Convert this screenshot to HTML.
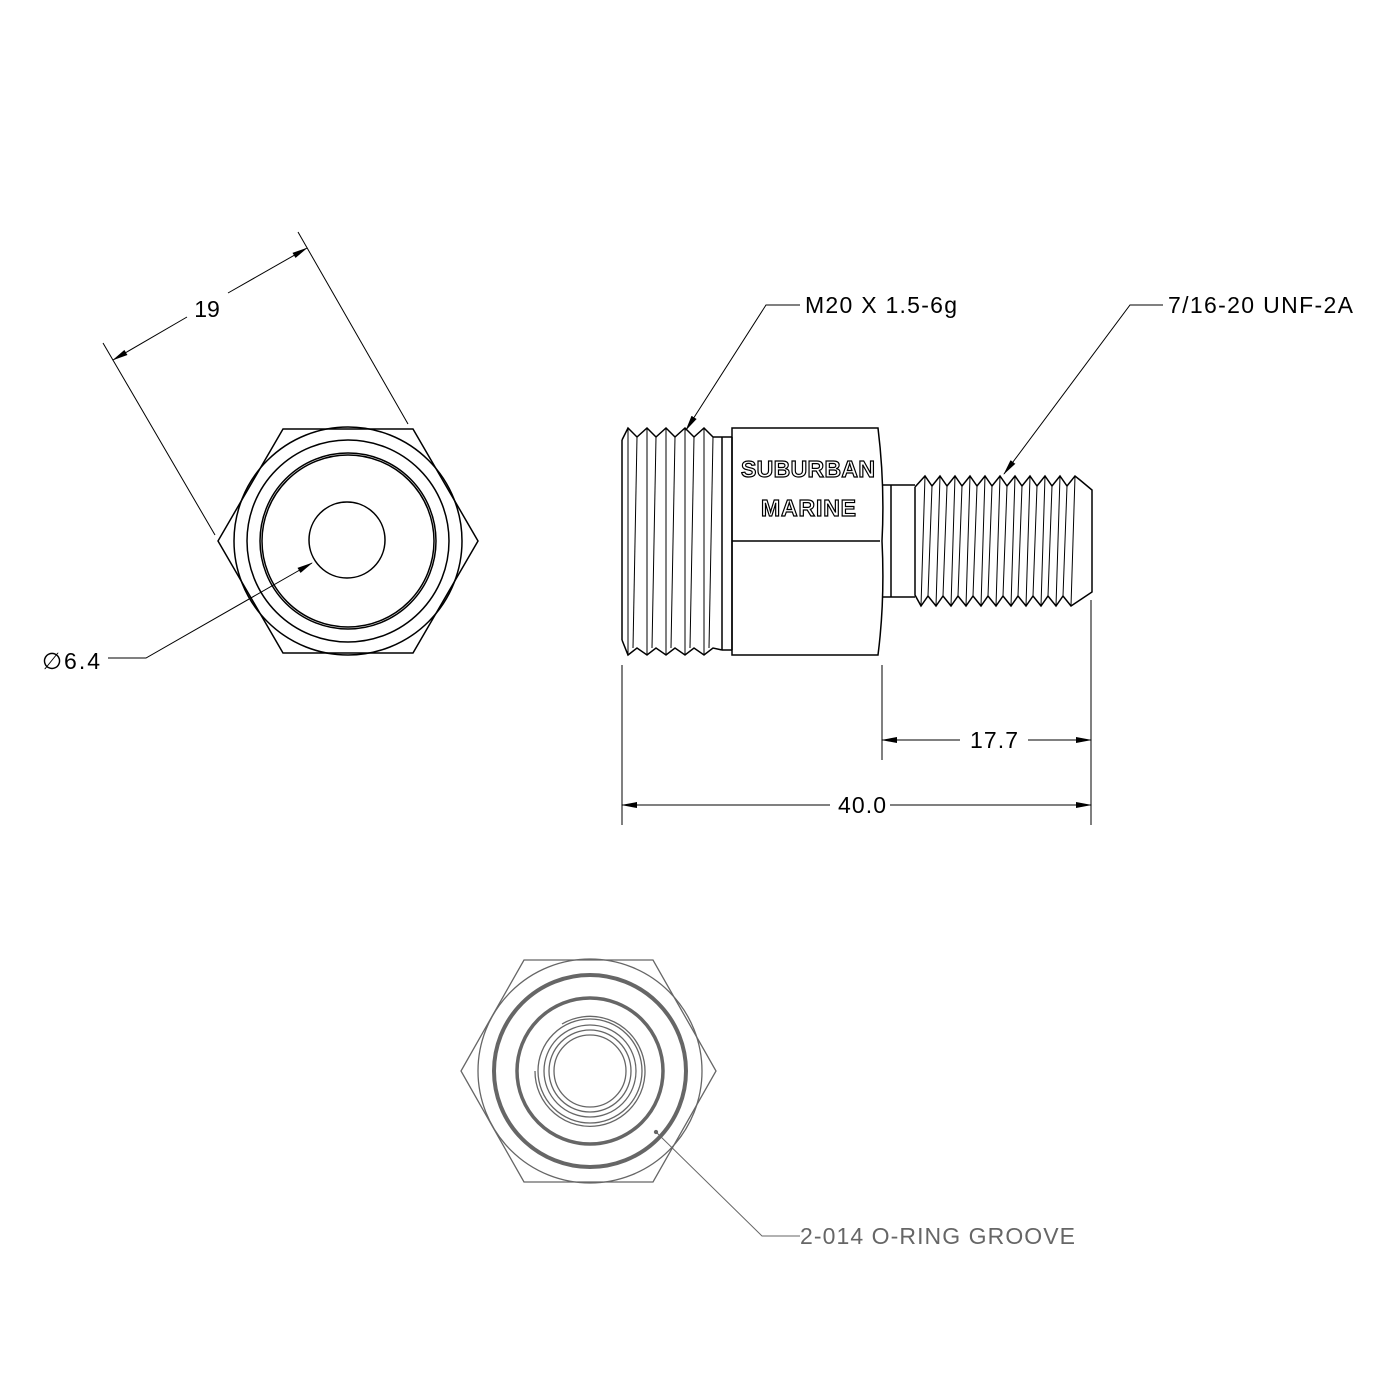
<!DOCTYPE html>
<html><head><style>html,body{margin:0;padding:0;background:#fff}svg{display:block}</style></head>
<body>
<svg width="1400" height="1400" viewBox="0 0 1400 1400" xmlns="http://www.w3.org/2000/svg" font-family="Liberation Sans, sans-serif">
<defs>
<marker id="ar" markerWidth="16" markerHeight="8" refX="15" refY="4" orient="auto" markerUnits="userSpaceOnUse"><path d="M0,1 L16,4 L0,7 z" fill="#000"/></marker>
</defs>
<g fill="none" stroke="#000" stroke-width="1.5">
<polygon points="283,429 413,429 478,541 413,653 283,653 218,541"/>
<circle cx="348" cy="541" r="114"/>
<circle cx="348" cy="541" r="101"/>
<circle cx="348" cy="541" r="88"/>
<circle cx="348" cy="541" r="86"/>
<circle cx="347" cy="540" r="38"/>
<g stroke-width="1">
<line x1="103" y1="343" x2="215" y2="535"/>
<line x1="298" y1="232" x2="408" y2="424"/>
<line x1="187" y1="317" x2="113" y2="360" marker-end="url(#ar)"/>
<line x1="228" y1="293" x2="307" y2="248" marker-end="url(#ar)"/>
<polyline points="108,658 146,658 312,563" marker-end="url(#ar)"/>
</g>
</g>
<text x="207" y="317" font-size="23" text-anchor="middle">19</text>
<text x="42" y="669" font-size="23" textLength="58">∅6.4</text>

<g fill="none" stroke="#000" stroke-width="1.5">
<polyline points="622,440 628,428 637,437 647,428 656,437 666,428 675,437 685,428 694,437 704,428 713,437 722,437"/>
<polyline points="622,640 628,655 637,648 647,655 656,648 666,655 675,648 685,655 694,648 704,655 713,648 722,650"/>
<line x1="622" y1="440" x2="622" y2="640"/>
<g stroke-width="1">
<line x1="628" y1="428" x2="628" y2="655"/><line x1="637" y1="437" x2="633" y2="648"/>
<line x1="647" y1="428" x2="647" y2="655"/><line x1="656" y1="437" x2="652" y2="648"/>
<line x1="666" y1="428" x2="666" y2="655"/><line x1="675" y1="437" x2="671" y2="648"/>
<line x1="685" y1="428" x2="685" y2="655"/><line x1="694" y1="437" x2="690" y2="648"/>
<line x1="704" y1="428" x2="704" y2="655"/><line x1="713" y1="437" x2="709" y2="648"/>
</g>
<line x1="722" y1="437" x2="722" y2="650"/>
<line x1="732" y1="437" x2="732" y2="650"/>
<line x1="722" y1="437" x2="732" y2="437"/>
<line x1="722" y1="650" x2="732" y2="650"/>
<path d="M732,428 L878,428 Q885,485 882,541 Q885,600 878,655 L732,655 Z"/>
<line x1="732" y1="541" x2="880" y2="541"/>
<line x1="883" y1="485" x2="915" y2="485"/>
<line x1="883" y1="597" x2="915" y2="597"/>
<line x1="891" y1="485" x2="891" y2="597"/>
<polyline points="915,487 925,476 932,486 940,476 947,486 955,476 962,486 970,476 977,486 985,476 992,486 1000,476 1007,486 1015,476 1022,486 1030,476 1037,486 1045,476 1052,486 1060,476 1067,486 1075,476 1080,480 1092,490 1092,592 1080,600 1071,606 1063,596 1056,606 1048,596 1041,606 1033,596 1026,606 1018,596 1011,606 1003,596 996,606 988,596 981,606 973,596 966,606 958,596 951,606 943,596 936,606 928,596 921,606 915,595 915,487"/>
<g stroke-width="1">
<line x1="925" y1="476" x2="921" y2="606"/><line x1="932" y1="486" x2="928" y2="596"/>
<line x1="940" y1="476" x2="936" y2="606"/><line x1="947" y1="486" x2="943" y2="596"/>
<line x1="955" y1="476" x2="951" y2="606"/><line x1="962" y1="486" x2="958" y2="596"/>
<line x1="970" y1="476" x2="966" y2="606"/><line x1="977" y1="486" x2="973" y2="596"/>
<line x1="985" y1="476" x2="981" y2="606"/><line x1="992" y1="486" x2="988" y2="596"/>
<line x1="1000" y1="476" x2="996" y2="606"/><line x1="1007" y1="486" x2="1003" y2="596"/>
<line x1="1015" y1="476" x2="1011" y2="606"/><line x1="1022" y1="486" x2="1018" y2="596"/>
<line x1="1030" y1="476" x2="1026" y2="606"/><line x1="1037" y1="486" x2="1033" y2="596"/>
<line x1="1045" y1="476" x2="1041" y2="606"/><line x1="1052" y1="486" x2="1048" y2="596"/>
<line x1="1060" y1="476" x2="1056" y2="606"/><line x1="1067" y1="486" x2="1063" y2="596"/>
<line x1="1075" y1="476" x2="1071" y2="606"/>
</g>
<g stroke-width="1">
<line x1="622" y1="665" x2="622" y2="825"/>
<line x1="1091" y1="600" x2="1091" y2="825"/>
<line x1="882" y1="665" x2="882" y2="760"/>
<line x1="830" y1="805" x2="622" y2="805" marker-end="url(#ar)"/>
<line x1="890" y1="805" x2="1091" y2="805" marker-end="url(#ar)"/>
<line x1="960" y1="740" x2="882" y2="740" marker-end="url(#ar)"/>
<line x1="1028" y1="740" x2="1091" y2="740" marker-end="url(#ar)"/>
<polyline points="800,305 766,305 686,430" marker-end="url(#ar)"/>
<polyline points="1163,305 1130,305 1004,474" marker-end="url(#ar)"/>
</g>
</g>
<text x="741" y="477" font-size="23" font-weight="bold" textLength="134" fill="#fff" stroke="#000" stroke-width="1.2">SUBURBAN</text>
<text x="761" y="516" font-size="23" font-weight="bold" textLength="95" fill="#fff" stroke="#000" stroke-width="1.2">MARINE</text>
<text x="805" y="313" font-size="23" textLength="152">M20 X 1.5-6g</text>
<text x="1168" y="313" font-size="23" textLength="185">7/16-20 UNF-2A</text>
<text x="970" y="748" font-size="23" textLength="48">17.7</text>
<text x="838" y="813" font-size="23" textLength="48">40.0</text>

<g fill="none" stroke="#666" stroke-width="1.3">
<polygon points="524,960 653,960 716,1071 653,1182 524,1182 461,1071"/>
<circle cx="590" cy="1071" r="112"/>
<circle cx="590" cy="1071" r="96" stroke-width="4"/>
<circle cx="590" cy="1071" r="73" stroke-width="3.5"/>
<path d="M562,1024 A55,55 0 1 1 535,1071"/>
<circle cx="590" cy="1071" r="52"/>
<circle cx="590" cy="1071" r="46"/>
<circle cx="590" cy="1071" r="41"/>
<circle cx="590" cy="1071" r="36"/>
<polyline points="656,1132 762,1236 800,1236" stroke-width="1"/>
<circle cx="656" cy="1132" r="1.5" fill="#666"/>
</g>
<text x="800" y="1244" font-size="23" fill="#666" textLength="275">2-014 O-RING GROOVE</text>
</svg>
</body></html>
